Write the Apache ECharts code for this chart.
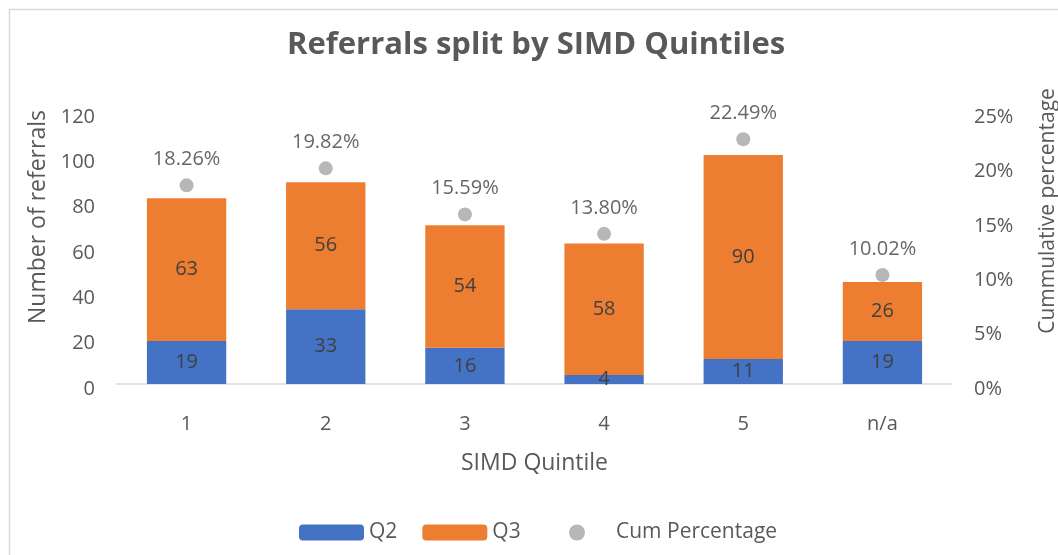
<!DOCTYPE html>
<html>
<head>
<meta charset="utf-8">
<script src="https://cdn.jsdelivr.net/npm/echarts@6/dist/echarts.min.js"></script>
<style>
html,body{margin:0;padding:0;background:#fff;}
#c{width:1058px;height:555px;}
</style>
</head>
<body>
<div id="c"></div>
<script>
const categories = ['1', '2', '3', '4', '5', 'n/a'];
const q2 = [19, 33, 16, 4, 11, 19];
const q3 = [63, 56, 54, 58, 90, 26];
const cumPct = [0.1826, 0.1982, 0.1559, 0.1380, 0.2249, 0.1002];
const leftTicks = {min: 0, max: 120, interval: 20};
const rightTicks = {min: 0, max: 0.25, interval: 0.05};

const FONT = '"Open Sans", sans-serif';
const TXT = '#595959';
const chart = echarts.init(document.getElementById('c'));
chart.setOption({
  animation: false,
  backgroundColor: '#fff',
  graphic: [{
    type: 'rect', left: 7, top: 7, z: -1,
    shape: {width: 1070, height: 570},
    style: {fill: 'none', stroke: '#D9D9D9', lineWidth: 1.5}
  }],
  title: {
    text: 'Referrals split by SIMD Quintiles',
    left: 287, top: 30, padding: 0,
    textStyle: {fontFamily: FONT, fontSize: 31, fontWeight: 'bold', color: TXT}
  },
  grid: {left: 117, right: 106, top: 112, bottom: 171, containLabel: false, outerBoundsMode: 'none'},
  legend: [{
    bottom: 12, left: 299, padding: 0,
    itemWidth: 65, itemHeight: 16, itemGap: 25,
    textStyle: {fontFamily: FONT, fontSize: 21, color: TXT},
    data: [{name: 'Q2'}, {name: 'Q3'}]
  }, {
    bottom: 12, left: 569, padding: 0,
    itemWidth: 16, itemHeight: 16,
    textStyle: {fontFamily: FONT, fontSize: 21, color: TXT, padding: [0, 0, 0, 26]},
    data: [{name: 'Cum Percentage', icon: 'circle'}]
  }],
  xAxis: {
    type: 'category', data: categories,
    name: 'SIMD Quintile', nameLocation: 'middle', nameGap: 68,
    nameTextStyle: {fontFamily: FONT, fontSize: 23, color: TXT},
    axisLine: {lineStyle: {color: '#D9D9D9', width: 1.5}},
    axisTick: {show: false},
    axisLabel: {fontFamily: FONT, fontSize: 20, color: TXT, margin: 30}
  },
  yAxis: [{
    type: 'value', min: leftTicks.min, max: leftTicks.max, interval: leftTicks.interval,
    name: 'Number of referrals', nameLocation: 'middle', nameGap: 66, nameRotate: 90,
    nameTextStyle: {fontFamily: FONT, fontSize: 23, color: TXT, padding: [0, 0, 0, 62]},
    splitLine: {show: false},
    axisLine: {show: false}, axisTick: {show: false},
    axisLabel: {fontFamily: FONT, fontSize: 20, color: TXT, margin: 22, verticalAlign: 'top', lineHeight: 10}
  }, {
    type: 'value', min: rightTicks.min, max: rightTicks.max, interval: rightTicks.interval,
    position: 'right',
    name: 'Cummulative percentage', nameLocation: 'middle', nameGap: 86, nameRotate: 90,
    nameTextStyle: {fontFamily: FONT, fontSize: 21, color: TXT, padding: [0, 0, 0, 74]},
    splitLine: {show: false},
    axisLine: {show: false}, axisTick: {show: false},
    axisLabel: {fontFamily: FONT, fontSize: 20, color: TXT, margin: 22, verticalAlign: 'top', lineHeight: 10,
      formatter: v => Math.round(v * 100) + '%'}
  }],
  series: [{
    name: 'Q2', type: 'bar', stack: 'a', data: q2, barWidth: '57%',
    itemStyle: {color: '#4472C4'},
    label: {show: true, position: 'inside', fontFamily: FONT, fontSize: 20, color: '#404040'}
  }, {
    name: 'Q3', type: 'bar', stack: 'a', data: q3, barWidth: '57%',
    itemStyle: {color: '#ED7D31'},
    label: {show: true, position: 'inside', fontFamily: FONT, fontSize: 20, color: '#404040'}
  }, {
    name: 'Cum Percentage', type: 'scatter', yAxisIndex: 1, data: cumPct,
    symbol: 'circle', symbolSize: 14,
    itemStyle: {color: '#A5A5A5'},
    label: {show: true, position: 'top', distance: 9, fontFamily: FONT, fontSize: 20, color: '#404040',
      formatter: p => (p.value * 100).toFixed(2) + '%'}
  }]
});
</script>
</body>
</html>
